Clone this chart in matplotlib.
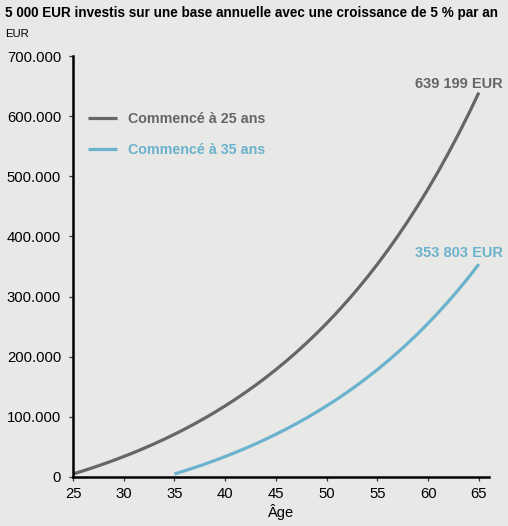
import matplotlib
matplotlib.use("Agg")
import matplotlib.pyplot as plt
from matplotlib.ticker import FuncFormatter

plt.rcParams['font.family'] = ['Liberation Sans', 'DejaVu Sans']

ages_25 = list(range(25, 66))
values_25 = [5000, 10250, 15763, 21551, 27628, 34010, 40710, 47746, 55133, 62889,
             71034, 79586, 88565, 97993, 107893, 118287, 129202, 140662, 152695, 165330,
             178596, 192526, 207152, 222510, 238635, 255567, 273346, 292013, 311614, 332194,
             353804, 376494, 400319, 425335, 451602, 479182, 508141, 538548, 570475, 603999,
             639199]
ages_35 = list(range(35, 66))
values_35 = [5000, 10250, 15763, 21551, 27628, 34010, 40710, 47746, 55133, 62889,
             71034, 79586, 88565, 97993, 107893, 118287, 129202, 140662, 152695, 165330,
             178596, 192526, 207152, 222510, 238635, 255567, 273346, 292013, 311614, 332194,
             353803]
labels = ["Commencé à 25 ans", "Commencé à 35 ans"]
end_labels = ["639 199 EUR", "353 803 EUR"]
x_ticks = [25, 30, 35, 40, 45, 50, 55, 60, 65]
y_ticks = [0, 100000, 200000, 300000, 400000, 500000, 600000, 700000]

bg = '#e8e8e6'
c_gray = '#666666'
c_blue = '#6ab2cd'

fig = plt.figure(figsize=(5.08, 5.26), dpi=100, facecolor=bg)
ax = fig.add_axes([73/508, 1-477/526, (489-73)/508, (477-56)/526])
ax.set_facecolor(bg)

ax.plot(ages_25, values_25, color=c_gray, lw=2.3, label=labels[0], solid_capstyle='butt')
ax.plot(ages_35, values_35, color=c_blue, lw=2.3, label=labels[1], solid_capstyle='butt')

ax.set_xlim(25, 66)
ax.set_ylim(0, 700000)
ax.set_xticks(x_ticks)
ax.set_yticks(y_ticks)

def fmt(v, pos):
    if v == 0:
        return "0"
    return f"{int(v):,}".replace(",", ".")
ax.yaxis.set_major_formatter(FuncFormatter(fmt))

for s in ['top', 'right']:
    ax.spines[s].set_visible(False)
for s in ['left', 'bottom']:
    ax.spines[s].set_linewidth(1.8)
    ax.spines[s].set_color('black')
ax.tick_params(axis='y', labelsize=10.7, length=3, width=0.9, pad=5.5,
               color='#333333', labelcolor='black')
ax.tick_params(axis='x', labelsize=10.7, length=3, width=0.9, pad=4.5,
               color='#333333', labelcolor='black')
ax.set_xlabel("Âge", fontsize=10.5, labelpad=2)

leg = ax.legend(loc='upper left', bbox_to_anchor=(0.005, 0.897), frameon=False,
                handlelength=2.05, handletextpad=0.75, labelspacing=1.2,
                prop={'weight': 'bold', 'size': 10.3}, labelcolor='linecolor')

ax.annotate(end_labels[0], xy=(ages_25[-1], values_25[-1]), xytext=(17, 1),
            textcoords='offset points', ha='right', va='bottom',
            fontsize=10.5, fontweight='bold', color=c_gray)
ax.annotate(end_labels[1], xy=(ages_35[-1], values_35[-1]), xytext=(17, 3),
            textcoords='offset points', ha='right', va='bottom',
            fontsize=10.5, fontweight='bold', color=c_blue)

fig.text(5/508, 1-13/526, "5 000 EUR investis sur une base annuelle avec une croissance de 5 % par an",
         fontsize=9.75, fontweight='bold', ha='left', va='center')
fig.text(5/508, 1-34/526, "EUR", fontsize=8.2, ha='left', va='center')

fig.savefig("out.png", dpi=100, facecolor=bg)
